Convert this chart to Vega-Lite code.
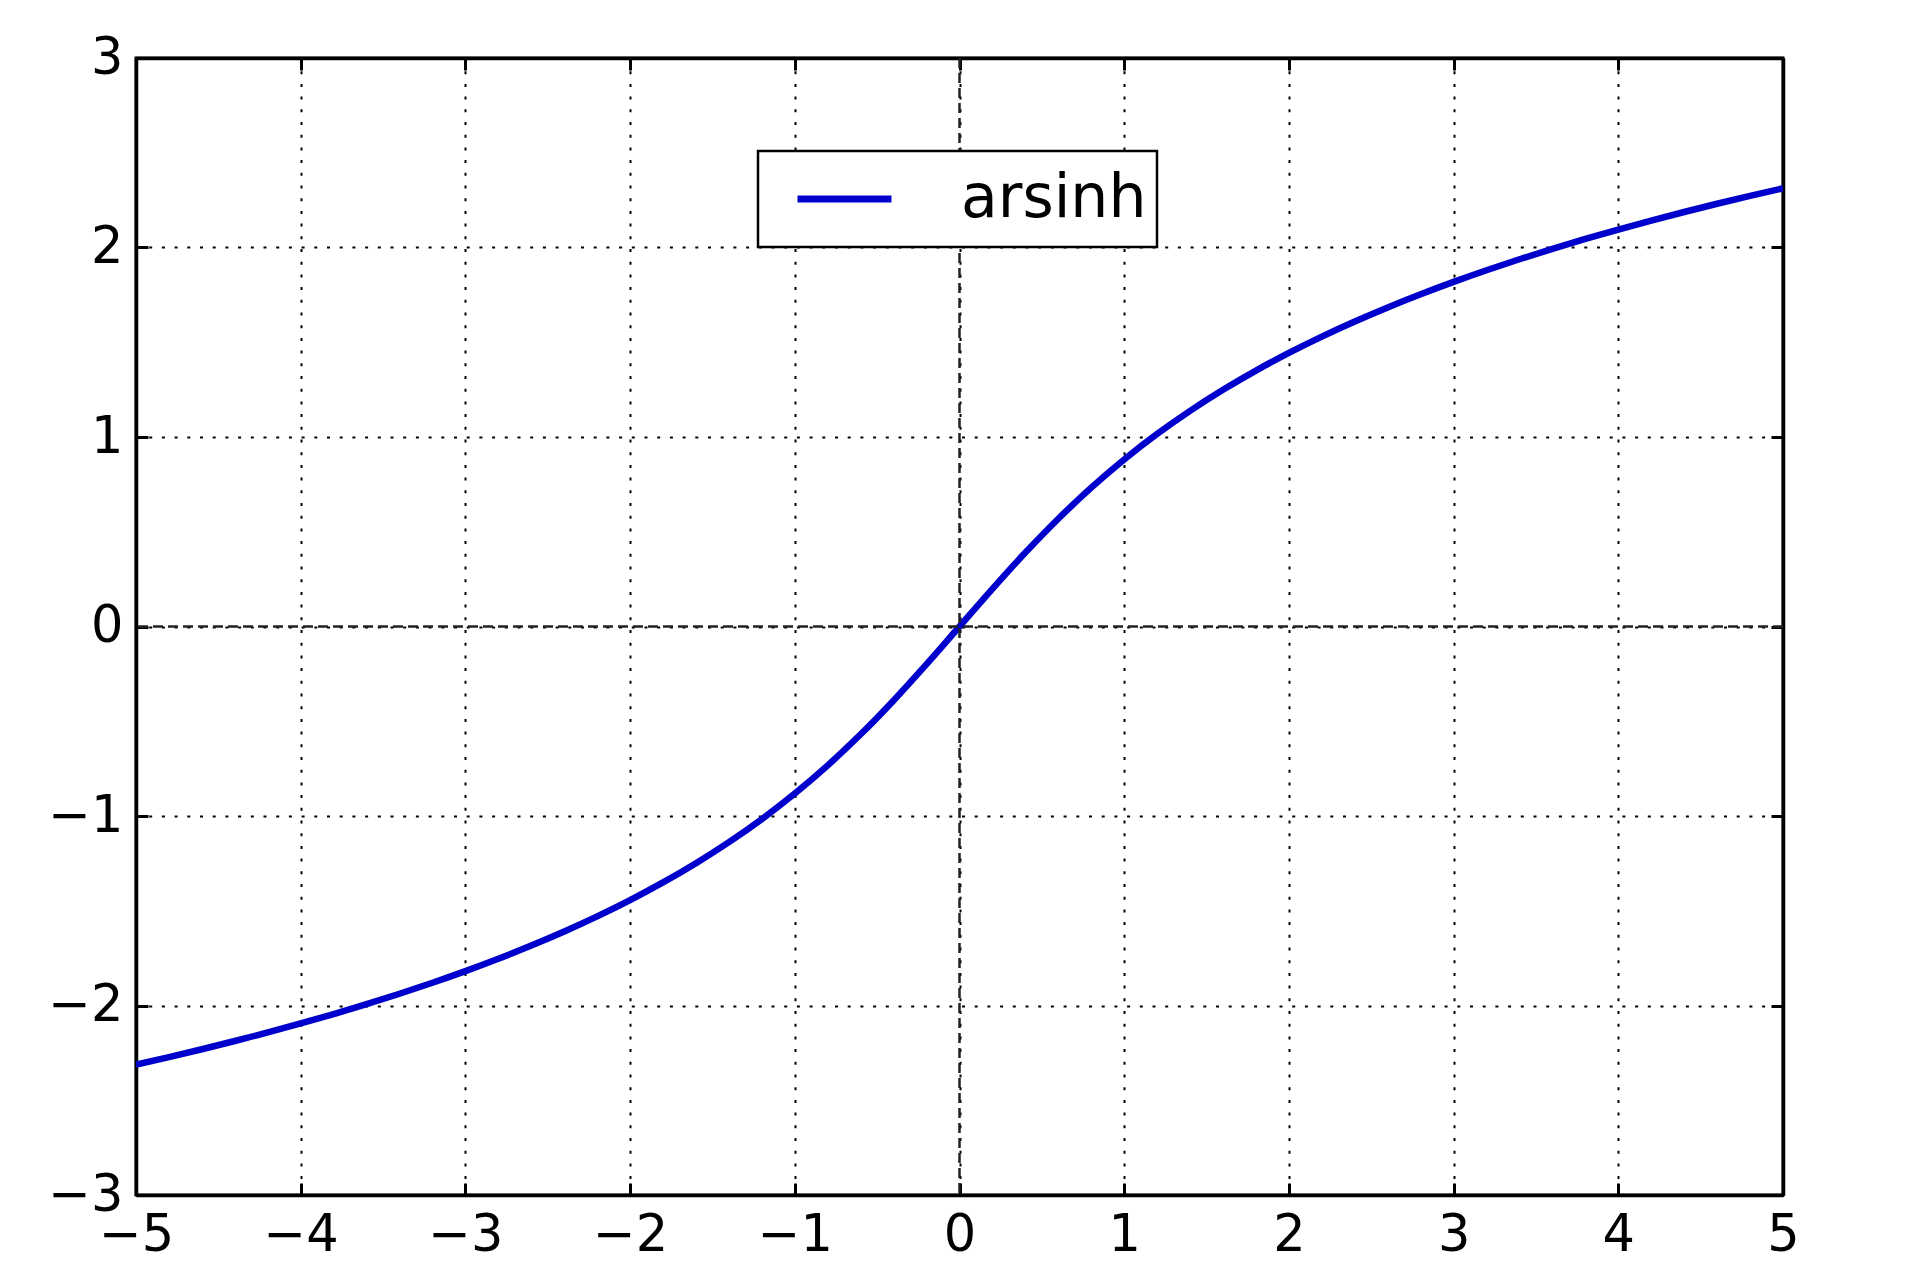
{
  "$schema": "https://vega.github.io/schema/vega-lite/v6.json",
  "width": 1647,
  "height": 1137,
  "autosize": {"type": "none"},
  "padding": {"left": 136, "top": 58, "right": 137, "bottom": 85},
  "background": "white",
  "config": {
    "view": {"stroke": "black", "strokeWidth": 3},
    "axis": {
      "labelFont": "DejaVu Sans",
      "labelFontSize": 51,
      "labelColor": "black",
      "domain": true,
      "domainColor": "black",
      "domainWidth": 3.5,
      "tickColor": "black",
      "tickWidth": 3,
      "tickSize": -12,
      "gridColor": "black",
      "gridWidth": 2,
      "gridDash": [3, 9.7],
      "gridOpacity": 1,
      "title": null
    },
    "legend": {
      "labelFont": "DejaVu Sans",
      "labelFontSize": 60,
      "labelColor": "black",
      "labelLimit": 500
    }
  },
  "layer": [
    {
      "data": {
        "values": [
          {"x": -5.0, "y": -2.31244, "series": "arsinh"},
          {"x": -4.8, "y": -2.27244, "series": "arsinh"},
          {"x": -4.6, "y": -2.23081, "series": "arsinh"},
          {"x": -4.4, "y": -2.18742, "series": "arsinh"},
          {"x": -4.2, "y": -2.14211, "series": "arsinh"},
          {"x": -4.0, "y": -2.09471, "series": "arsinh"},
          {"x": -3.8, "y": -2.04503, "series": "arsinh"},
          {"x": -3.6, "y": -1.99283, "series": "arsinh"},
          {"x": -3.4, "y": -1.93788, "series": "arsinh"},
          {"x": -3.2, "y": -1.87987, "series": "arsinh"},
          {"x": -3.0, "y": -1.81845, "series": "arsinh"},
          {"x": -2.8, "y": -1.75323, "series": "arsinh"},
          {"x": -2.6, "y": -1.68375, "series": "arsinh"},
          {"x": -2.4, "y": -1.60944, "series": "arsinh"},
          {"x": -2.2, "y": -1.52966, "series": "arsinh"},
          {"x": -2.0, "y": -1.44364, "series": "arsinh"},
          {"x": -1.8, "y": -1.35044, "series": "arsinh"},
          {"x": -1.6, "y": -1.24898, "series": "arsinh"},
          {"x": -1.4, "y": -1.13798, "series": "arsinh"},
          {"x": -1.2, "y": -1.01597, "series": "arsinh"},
          {"x": -1.0, "y": -0.88137, "series": "arsinh"},
          {"x": -0.8, "y": -0.73267, "series": "arsinh"},
          {"x": -0.6, "y": -0.56882, "series": "arsinh"},
          {"x": -0.4, "y": -0.39004, "series": "arsinh"},
          {"x": -0.2, "y": -0.19869, "series": "arsinh"},
          {"x": 0.0, "y": 0.0, "series": "arsinh"},
          {"x": 0.2, "y": 0.19869, "series": "arsinh"},
          {"x": 0.4, "y": 0.39004, "series": "arsinh"},
          {"x": 0.6, "y": 0.56882, "series": "arsinh"},
          {"x": 0.8, "y": 0.73267, "series": "arsinh"},
          {"x": 1.0, "y": 0.88137, "series": "arsinh"},
          {"x": 1.2, "y": 1.01597, "series": "arsinh"},
          {"x": 1.4, "y": 1.13798, "series": "arsinh"},
          {"x": 1.6, "y": 1.24898, "series": "arsinh"},
          {"x": 1.8, "y": 1.35044, "series": "arsinh"},
          {"x": 2.0, "y": 1.44364, "series": "arsinh"},
          {"x": 2.2, "y": 1.52966, "series": "arsinh"},
          {"x": 2.4, "y": 1.60944, "series": "arsinh"},
          {"x": 2.6, "y": 1.68375, "series": "arsinh"},
          {"x": 2.8, "y": 1.75323, "series": "arsinh"},
          {"x": 3.0, "y": 1.81845, "series": "arsinh"},
          {"x": 3.2, "y": 1.87987, "series": "arsinh"},
          {"x": 3.4, "y": 1.93788, "series": "arsinh"},
          {"x": 3.6, "y": 1.99283, "series": "arsinh"},
          {"x": 3.8, "y": 2.04503, "series": "arsinh"},
          {"x": 4.0, "y": 2.09471, "series": "arsinh"},
          {"x": 4.2, "y": 2.14211, "series": "arsinh"},
          {"x": 4.4, "y": 2.18742, "series": "arsinh"},
          {"x": 4.6, "y": 2.23081, "series": "arsinh"},
          {"x": 4.8, "y": 2.27244, "series": "arsinh"},
          {"x": 5.0, "y": 2.31244, "series": "arsinh"}
        ]
      },
      "mark": {"type": "line", "strokeWidth": 6.5, "interpolate": "monotone", "clip": true},
      "encoding": {
        "x": {
          "field": "x", "type": "quantitative",
          "scale": {"domain": [-5, 5], "nice": false, "zero": false},
          "axis": {"orient": "bottom", "values": [-5, -4, -3, -2, -1, 0, 1, 2, 3, 4, 5], "labelPadding": 27, "labelFlush": false, "labelOverlap": false}
        },
        "y": {
          "field": "y", "type": "quantitative",
          "scale": {"domain": [-3, 3], "nice": false, "zero": false},
          "axis": {"orient": "left", "values": [-3, -2, -1, 0, 1, 2, 3], "labelPadding": 25, "labelFlush": false, "labelOverlap": false}
        },
        "color": {
          "field": "series", "type": "nominal",
          "scale": {"range": ["#0000cc"]},
          "legend": {
            "title": null,
            "orient": "none",
            "legendX": 622,
            "legendY": 93,
            "symbolType": "stroke",
            "symbolSize": 8836,
            "symbolStrokeWidth": 7,
            "symbolOffset": 26,
            "labelOffset": 66,
            "padding": 10,
            "clipHeight": 76,
            "strokeColor": "black",
            "fillColor": "white",
            "cornerRadius": 0,
            "encode": {"legend": {"update": {"strokeWidth": {"value": 2.5}}}}
          }
        }
      }
    },
    {
      "data": {"values": [{"v": 0}]},
      "mark": {"type": "rule", "color": "#222222", "strokeWidth": 2.5, "strokeDash": [10, 5]},
      "encoding": {
        "x": {
          "field": "v", "type": "quantitative",
          "scale": {"domain": [-5, 5], "nice": false, "zero": false},
          "axis": {"orient": "top", "values": [-5, -4, -3, -2, -1, 0, 1, 2, 3, 4, 5], "labels": false, "grid": false}
        }
      }
    },
    {
      "data": {"values": [{"v": 0}]},
      "mark": {"type": "rule", "color": "#222222", "strokeWidth": 2.5, "strokeDash": [10, 5]},
      "encoding": {
        "y": {
          "field": "v", "type": "quantitative",
          "scale": {"domain": [-3, 3], "nice": false, "zero": false},
          "axis": {"orient": "right", "values": [-3, -2, -1, 0, 1, 2, 3], "labels": false, "grid": false}
        }
      }
    }
  ],
  "resolve": {"axis": {"x": "independent", "y": "independent"}}
}
